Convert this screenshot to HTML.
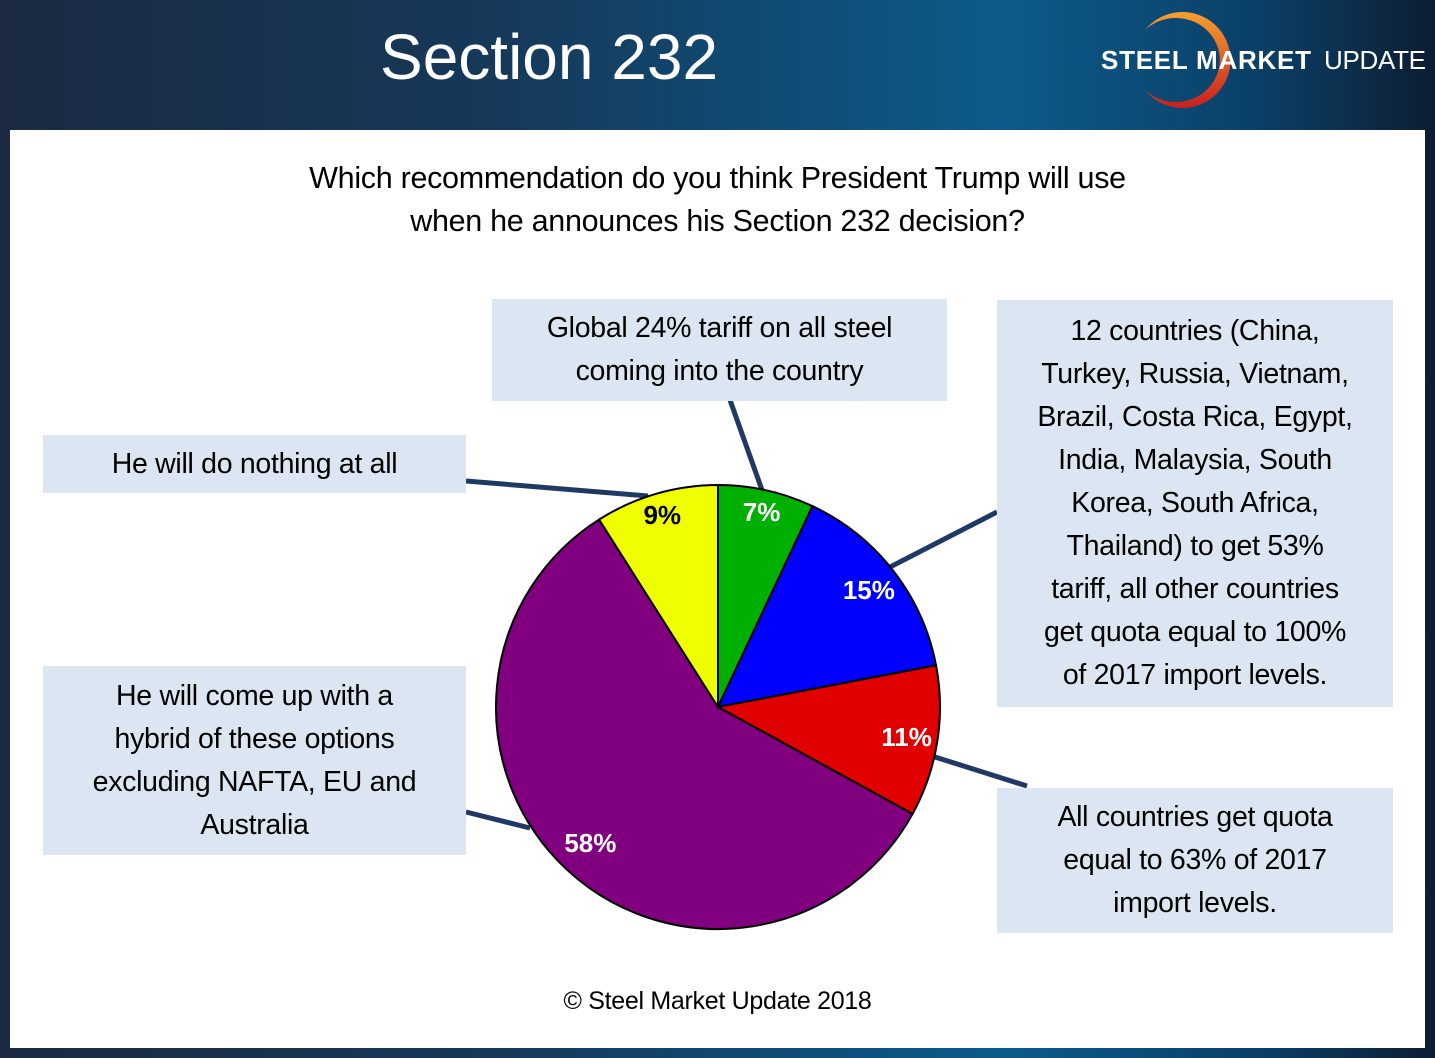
<!DOCTYPE html>
<html><head><meta charset="utf-8"><style>
body{margin:0;width:1435px;height:1058px;overflow:hidden;font-family:"Liberation Sans",sans-serif;}
#bg{position:absolute;left:0;top:0;width:1435px;height:1058px;background:linear-gradient(90deg,#1b2a42 0%,#16395a 35%,#0b5b8a 70%,#0b3f66 88%,#0c1d33 100%);}
#panel{position:absolute;left:10px;top:130px;width:1415px;height:918px;background:#fff;}
.box{position:absolute;background:#dce6f2;color:#000;text-align:center;font-size:28.5px;line-height:43px;display:flex;align-items:center;justify-content:center;letter-spacing:-0.3px;}
</style></head><body>
<div id="bg"></div>
<div style="position:absolute;left:380px;top:20px;color:#fff;font-size:64px;">Section 232</div>
<svg style="position:absolute;left:1095px;top:8px" width="340" height="110">
<defs><linearGradient id="lg" x1="0" y1="0" x2="0" y2="1"><stop offset="0" stop-color="#f5a030"/><stop offset="1" stop-color="#c81f1f"/></linearGradient></defs>
<path d="M50 22 A48 48 0 1 1 50 82 A44 42 0 1 0 50 22Z" fill="url(#lg)"/>
<text x="6" y="61" fill="#fff" font-size="26" font-weight="bold" textLength="210">STEEL MARKET</text>
<text x="229" y="61" fill="#fff" font-size="26" textLength="102">UPDATE</text>
</svg>
<div id="panel"></div>
<div style="position:absolute;left:10px;width:1415px;top:157px;text-align:center;font-size:30.5px;line-height:43px;letter-spacing:-0.3px;">Which recommendation do you think President Trump will use<br>when he announces his Section 232 decision?</div>
<svg id="chart" style="position:absolute;left:0;top:0" width="1435" height="1058">
<g stroke="#1f3864" stroke-width="5" fill="none">
<line x1="730" y1="400" x2="762" y2="490"/><line x1="466" y1="481" x2="648" y2="496"/>
<line x1="997" y1="512" x2="890" y2="567"/><line x1="466" y1="812" x2="530" y2="828"/>
<line x1="1027" y1="786" x2="935" y2="757"/></g>
<g id="slices"></g><g id="labels"></g>
</svg>
<div class="box" style="left:492px;top:299px;width:455px;height:102px;">Global 24% tariff on all steel<br>coming into the country</div>
<div class="box" style="left:43px;top:435px;width:423px;height:58px;">He will do nothing at all</div>
<div class="box" style="left:997px;top:300px;width:396px;height:407px;">12 countries (China,<br>Turkey, Russia, Vietnam,<br>Brazil, Costa Rica, Egypt,<br>India, Malaysia, South<br>Korea, South Africa,<br>Thailand) to get 53%<br>tariff, all other countries<br>get quota equal to 100%<br>of 2017 import levels.</div>
<div class="box" style="left:43px;top:666px;width:423px;height:189px;">He will come up with a<br>hybrid of these options<br>excluding NAFTA, EU and<br>Australia</div>
<div class="box" style="left:997px;top:788px;width:396px;height:145px;">All countries get quota<br>equal to 63% of 2017<br>import levels.</div>
<div style="position:absolute;left:10px;width:1415px;top:987px;text-align:center;font-size:25px;letter-spacing:-0.3px;">© Steel Market Update 2018</div>
<script>
const categories=["Global 24% tariff","12 countries 53% tariff","Quota 63%","Hybrid","Do nothing"];
const values=[7,15,11,58,9];
const valueLabels=["7%","15%","11%","58%","9%"];
const colors=["#00b000","#0000ff","#e00000","#800080","#f0ff00"];
const labelColors=["#fff","#fff","#fff","#fff","#000"];
const cx=718,cy=707,r=222;
const ns="http://www.w3.org/2000/svg";
const total=values.reduce((a,b)=>a+b,0);
const ang=v=>v/total*2*Math.PI;
const pt=(a,rr)=>[cx+rr*Math.sin(a),cy-rr*Math.cos(a)];
let a0=0;
const sg=document.getElementById('slices'),lg=document.getElementById('labels');
values.forEach((v,i)=>{
 const a1=a0+ang(v);
 const p0=pt(a0,r),p1=pt(a1,r);
 const path=document.createElementNS(ns,'path');
 path.setAttribute('d',`M${cx} ${cy}L${p0[0]} ${p0[1]}A${r} ${r} 0 ${a1-a0>Math.PI?1:0} 1 ${p1[0]} ${p1[1]}Z`);
 path.setAttribute('fill',colors[i]);path.setAttribute('stroke','#000');path.setAttribute('stroke-width','2');
 
 
 sg.appendChild(path);
 const m=(a0+a1)/2, lr=v<10?r*0.9:(v>40?r*0.84:r*0.86);
 const lp=pt(m,lr);
 const t=document.createElementNS(ns,'text');
 t.setAttribute('x',lp[0]);t.setAttribute('y',lp[1]+9);t.setAttribute('text-anchor','middle');
 t.setAttribute('font-size','26');t.setAttribute('font-weight','bold');t.setAttribute('fill',labelColors[i]);
 t.textContent=valueLabels[i];
 
 
 lg.appendChild(t);
 a0=a1;
});
</script>
</body></html>
